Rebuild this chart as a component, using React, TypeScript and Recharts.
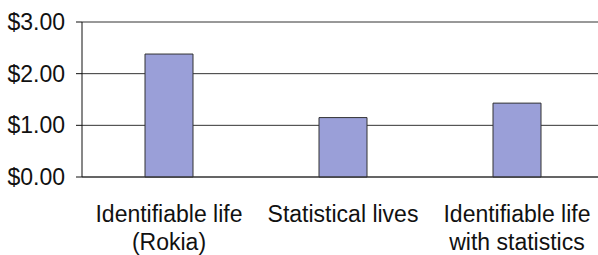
import { BarChart, Bar, XAxis, YAxis, CartesianGrid } from 'recharts';

const categories = ['Identifiable life\n(Rokia)', 'Statistical lives', 'Identifiable life\nwith statistics'];
const donations = [2.38, 1.15, 1.43];
const yTicks = [0, 1, 2, 3];

const data = categories.map((c, i) => ({ name: c, value: donations[i] }));

const FONT = '"Liberation Sans", Arial, sans-serif';

function CategoryTick(props: any) {
  const { x, y, payload } = props;
  const lines = String(payload.value).split('\n');
  return (
    <text x={x} y={y} textAnchor="middle" fill="#111" fontFamily={FONT} fontSize={23}>
      {lines.map((l, i) => (
        <tspan key={i} x={x} dy={i === 0 ? 43 : 28}>{l}</tspan>
      ))}
    </text>
  );
}

export default function App() {
  return (
    <div style={{ position: 'absolute', left: 0, top: 0, width: 598, height: 255, overflow: 'hidden', background: '#fff' }}>
      <BarChart width={604} height={255} data={data} margin={{ top: 22, right: 0, bottom: 0, left: 0 }} barSize={48}>
        <CartesianGrid vertical={false} stroke="#333" />
        <XAxis
          dataKey="name"
          height={78}
          tickSize={0}
          tickLine={false}
          axisLine={{ stroke: '#333' }}
          tick={<CategoryTick />}
          interval={0}
        />
        <YAxis
          width={82}
          domain={[0, 3]}
          ticks={yTicks}
          tickFormatter={(v) => `$${Number(v).toFixed(2)}`}
          tickSize={6}
          tickMargin={11}
          axisLine={{ stroke: '#111' }}
          tickLine={{ stroke: '#111' }}
          tick={{ fill: '#111', fontSize: 23, fontFamily: FONT }}
        />
        <Bar dataKey="value" fill="#9a9fd8" stroke="#333" strokeWidth={1} isAnimationActive={false} />
      </BarChart>
    </div>
  );
}
